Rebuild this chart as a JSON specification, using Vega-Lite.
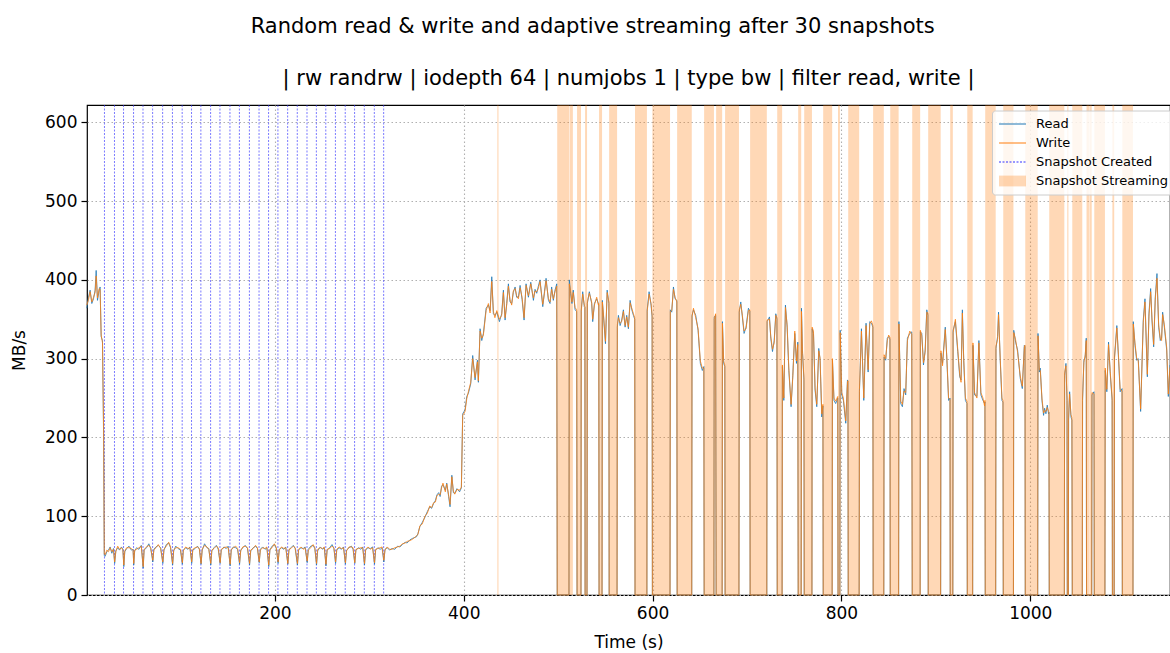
{
  "$schema": "https://vega.github.io/schema/vega-lite/v6.json",
  "background": "white",
  "padding": {"left": 9, "top": 15, "right": 0, "bottom": 0},
  "title": {"text": "Random read & write and adaptive streaming after 30 snapshots", "fontSize": 21, "font": "DejaVu Sans", "fontWeight": "normal", "anchor": "middle", "frame": "bounds", "offset": 30, "color": "black"},
  "datasets": {
    "series": [
      {"t":0.8,"Read":364,"Write":368},{"t":2.6,"Read":378,"Write":375},{"t":4.3,"Read":387,"Write":385},{"t":6.1,"Read":370,"Write":372},{"t":7.9,"Read":376,"Write":378},{"t":9.6,"Read":387,"Write":384},{"t":10.7,"Read":412,"Write":405},{"t":12.1,"Read":374,"Write":377},{"t":13.9,"Read":387,"Write":389},{"t":14.9,"Read":391,"Write":388},{"t":16.0,"Read":328,"Write":330},{"t":17.4,"Read":323,"Write":320},{"t":18.6,"Read":200,"Write":210},{"t":19.3,"Read":50,"Write":52},
      {"t":20.2,"Read":49,"Write":51},{"t":22.0,"Read":55,"Write":57},{"t":23.8,"Read":57,"Write":55},{"t":25.5,"Read":61,"Write":60},{"t":27.3,"Read":53,"Write":55},{"t":29.0,"Read":59,"Write":58},{"t":30.3,"Read":40,"Write":42},{"t":31.5,"Read":56,"Write":55},{"t":33.5,"Read":60,"Write":62},{"t":35.5,"Read":57,"Write":58},{"t":37.5,"Read":61,"Write":60},{"t":39.0,"Read":58,"Write":57},{"t":40.0,"Read":36,"Write":38},{"t":41.0,"Read":55,"Write":56},{"t":43.0,"Read":59,"Write":60},{"t":45.5,"Read":62,"Write":60},{"t":48.0,"Read":57,"Write":59},{"t":49.8,"Read":58,"Write":57},{"t":50.5,"Read":38,"Write":40},{"t":51.5,"Read":56,"Write":57},{"t":53.5,"Read":60,"Write":58},{"t":56.0,"Read":58,"Write":60},{"t":58.5,"Read":63,"Write":62},{"t":60.5,"Read":34,"Write":36},{"t":61.5,"Read":57,"Write":58},{"t":64.0,"Read":60,"Write":61},{"t":66.5,"Read":65,"Write":63},{"t":68.5,"Read":59,"Write":60},{"t":70.7,"Read":42,"Write":44},{"t":71.8,"Read":58,"Write":57},{"t":74.0,"Read":61,"Write":60},{"t":76.5,"Read":63,"Write":64},{"t":79.0,"Read":60,"Write":59},{"t":81.3,"Read":40,"Write":42},{"t":82.5,"Read":57,"Write":58},{"t":85.0,"Read":64,"Write":62},{"t":87.5,"Read":66,"Write":67},{"t":89.5,"Read":60,"Write":61},{"t":91.7,"Read":38,"Write":40},{"t":92.8,"Read":56,"Write":57},{"t":95.0,"Read":62,"Write":60},{"t":97.5,"Read":59,"Write":60},{"t":100.0,"Read":57,"Write":58},{"t":102.0,"Read":39,"Write":41},{"t":103.0,"Read":57,"Write":56},{"t":105.5,"Read":60,"Write":61},{"t":108.0,"Read":58,"Write":59},{"t":110.0,"Read":61,"Write":60},{"t":111.9,"Read":40,"Write":42},{"t":113.0,"Read":57,"Write":58},{"t":115.5,"Read":59,"Write":60},{"t":118.0,"Read":62,"Write":61},{"t":120.0,"Read":58,"Write":59},{"t":121.8,"Read":39,"Write":40},{"t":123.0,"Read":57,"Write":58},{"t":125.5,"Read":65,"Write":63},{"t":128.0,"Read":60,"Write":61},{"t":130.0,"Read":59,"Write":58},{"t":132.1,"Read":38,"Write":40},{"t":133.2,"Read":56,"Write":57},{"t":135.5,"Read":60,"Write":59},{"t":138.0,"Read":63,"Write":62},{"t":140.0,"Read":58,"Write":60},{"t":142.0,"Read":40,"Write":41},{"t":143.2,"Read":57,"Write":58},{"t":146.0,"Read":61,"Write":60},{"t":148.5,"Read":59,"Write":61},{"t":150.5,"Read":62,"Write":60},{"t":152.6,"Read":37,"Write":39},{"t":153.8,"Read":57,"Write":58},{"t":156.0,"Read":61,"Write":60},{"t":158.5,"Read":60,"Write":62},{"t":160.5,"Read":58,"Write":59},{"t":162.6,"Read":39,"Write":41},{"t":163.8,"Read":57,"Write":56},{"t":166.0,"Read":60,"Write":61},{"t":168.5,"Read":63,"Write":62},{"t":171.0,"Read":59,"Write":60},{"t":173.2,"Read":38,"Write":40},{"t":174.4,"Read":56,"Write":57},{"t":177.0,"Read":60,"Write":59},{"t":179.5,"Read":62,"Write":63},{"t":181.5,"Read":59,"Write":60},{"t":183.4,"Read":41,"Write":42},{"t":184.6,"Read":58,"Write":57},{"t":187.0,"Read":61,"Write":60},{"t":189.5,"Read":58,"Write":59},{"t":191.5,"Read":60,"Write":61},{"t":193.5,"Read":36,"Write":38},{"t":194.7,"Read":57,"Write":58},{"t":197.0,"Read":62,"Write":60},{"t":199.5,"Read":64,"Write":65},{"t":201.5,"Read":59,"Write":60},{"t":203.4,"Read":40,"Write":42},{"t":204.6,"Read":58,"Write":57},{"t":207.0,"Read":60,"Write":61},{"t":209.5,"Read":58,"Write":59},{"t":211.5,"Read":61,"Write":60},{"t":213.7,"Read":39,"Write":40},{"t":214.9,"Read":57,"Write":58},{"t":217.0,"Read":60,"Write":59},{"t":219.5,"Read":63,"Write":62},{"t":221.5,"Read":59,"Write":60},{"t":223.9,"Read":38,"Write":40},{"t":225.1,"Read":57,"Write":58},{"t":227.5,"Read":60,"Write":61},{"t":230.0,"Read":59,"Write":58},{"t":232.0,"Read":61,"Write":60},{"t":234.2,"Read":41,"Write":43},{"t":235.4,"Read":58,"Write":57},{"t":238.0,"Read":62,"Write":60},{"t":240.5,"Read":63,"Write":64},{"t":242.3,"Read":59,"Write":60},{"t":244.1,"Read":38,"Write":40},{"t":245.3,"Read":56,"Write":58},{"t":248.0,"Read":61,"Write":60},{"t":250.5,"Read":58,"Write":59},{"t":252.3,"Read":60,"Write":61},{"t":254.1,"Read":37,"Write":39},{"t":255.3,"Read":57,"Write":58},{"t":258.0,"Read":60,"Write":59},{"t":260.5,"Read":64,"Write":62},{"t":262.5,"Read":59,"Write":60},{"t":264.3,"Read":40,"Write":42},{"t":265.5,"Read":57,"Write":58},{"t":268.0,"Read":60,"Write":61},{"t":270.5,"Read":58,"Write":59},{"t":272.7,"Read":61,"Write":60},{"t":274.7,"Read":39,"Write":41},{"t":275.9,"Read":57,"Write":56},{"t":278.5,"Read":60,"Write":61},{"t":281.0,"Read":62,"Write":61},{"t":282.8,"Read":58,"Write":60},{"t":284.6,"Read":40,"Write":41},{"t":285.8,"Read":57,"Write":58},{"t":288.5,"Read":60,"Write":59},{"t":291.0,"Read":58,"Write":60},{"t":293.0,"Read":61,"Write":60},{"t":294.9,"Read":38,"Write":40},{"t":296.1,"Read":57,"Write":58},{"t":298.5,"Read":60,"Write":61},{"t":301.0,"Read":59,"Write":58},{"t":303.5,"Read":61,"Write":60},{"t":305.5,"Read":39,"Write":41},{"t":306.7,"Read":57,"Write":58},{"t":309.0,"Read":60,"Write":59},{"t":311.5,"Read":58,"Write":60},{"t":313.5,"Read":60,"Write":61},{"t":315.4,"Read":42,"Write":44},{"t":316.6,"Read":58,"Write":57},{"t":319.0,"Read":60,"Write":61},
      {"t":321.5,"Read":57,"Write":58},{"t":324.0,"Read":59,"Write":58},{"t":327.0,"Read":58,"Write":60},{"t":330.0,"Read":62,"Write":61},{"t":332.4,"Read":61,"Write":62},{"t":335.0,"Read":64,"Write":65},{"t":338.0,"Read":67,"Write":66},{"t":340.0,"Read":66,"Write":68},{"t":343.0,"Read":70,"Write":69},{"t":346.0,"Read":72,"Write":71},{"t":350.0,"Read":74,"Write":75},{"t":351.5,"Read":78,"Write":77},{"t":353.6,"Read":87,"Write":88},{"t":356.0,"Read":92,"Write":90},{"t":359.0,"Read":99,"Write":100},{"t":361.5,"Read":106,"Write":104},{"t":364.0,"Read":112,"Write":113},{"t":366.0,"Read":110,"Write":111},{"t":368.0,"Read":116,"Write":117},{"t":370.0,"Read":120,"Write":118},{"t":371.6,"Read":127,"Write":126},{"t":373.5,"Read":130,"Write":128},{"t":375.0,"Read":125,"Write":127},{"t":376.5,"Read":138,"Write":136},{"t":378.0,"Read":140,"Write":142},{"t":380.5,"Read":133,"Write":131},{"t":382.0,"Read":142,"Write":141},{"t":384.0,"Read":125,"Write":127},{"t":385.5,"Read":112,"Write":115},{"t":387.4,"Read":152,"Write":150},{"t":389.0,"Read":130,"Write":132},{"t":390.5,"Read":129,"Write":128},{"t":392.8,"Read":135,"Write":134},{"t":395.6,"Read":131,"Write":133},{"t":397.5,"Read":136,"Write":137},{"t":398.9,"Read":230,"Write":228},{"t":401.4,"Read":235,"Write":233},{"t":403.2,"Read":252,"Write":249},{"t":404.9,"Read":256,"Write":258},{"t":407.4,"Read":268,"Write":270},{"t":409.5,"Read":304,"Write":300},{"t":412.0,"Read":273,"Write":276},{"t":414.5,"Read":298,"Write":296},{"t":415.5,"Read":270,"Write":272},{"t":417.3,"Read":338,"Write":335},{"t":419.1,"Read":323,"Write":326},{"t":420.8,"Read":332,"Write":330},{"t":423.7,"Read":364,"Write":361},{"t":426.1,"Read":368,"Write":370},{"t":427.9,"Read":361,"Write":358},{"t":429.7,"Read":404,"Write":398},{"t":431.4,"Read":357,"Write":360},{"t":433.0,"Read":355,"Write":352},{"t":435.0,"Read":359,"Write":361},{"t":437.8,"Read":347,"Write":350},{"t":440.2,"Read":357,"Write":355},{"t":442.0,"Read":387,"Write":384},{"t":443.8,"Read":349,"Write":352},{"t":445.5,"Read":370,"Write":368},{"t":447.3,"Read":395,"Write":392},{"t":449.0,"Read":372,"Write":375},{"t":450.8,"Read":370,"Write":368},{"t":452.5,"Read":384,"Write":386},{"t":454.4,"Read":391,"Write":389},{"t":456.0,"Read":378,"Write":380},{"t":457.9,"Read":378,"Write":376},{"t":459.7,"Read":393,"Write":390},{"t":461.8,"Read":375,"Write":378},{"t":463.9,"Read":349,"Write":352},{"t":466.0,"Read":395,"Write":393},{"t":468.5,"Read":378,"Write":380},{"t":471.0,"Read":397,"Write":395},{"t":473.8,"Read":374,"Write":377},{"t":475.5,"Read":388,"Write":386},{"t":477.3,"Read":383,"Write":385},{"t":479.0,"Read":392,"Write":389},{"t":480.8,"Read":400,"Write":398},{"t":483.7,"Read":366,"Write":369},{"t":485.5,"Read":385,"Write":383},{"t":487.2,"Read":402,"Write":399},{"t":489.7,"Read":374,"Write":376},{"t":491.4,"Read":370,"Write":372},{"t":493.1,"Read":391,"Write":388},{"t":494.9,"Read":374,"Write":376},{"t":496.7,"Read":387,"Write":385},{"t":498.5,"Read":395,"Write":392},
      {"t":499.0,"Read":0,"Write":0},{"t":511.5,"Read":0,"Write":0},{"t":511.8,"Read":400,"Write":395},{"t":513.2,"Read":383,"Write":386},{"t":514.6,"Read":370,"Write":372},{"t":516.0,"Read":387,"Write":384},{"t":517.9,"Read":362,"Write":365},{"t":519.6,"Read":360,"Write":362},{"t":520.0,"Read":0,"Write":0},{"t":524.2,"Read":0,"Write":0},{"t":524.5,"Read":362,"Write":360},{"t":526.0,"Read":385,"Write":382},{"t":527.7,"Read":366,"Write":368},{"t":528.3,"Read":365,"Write":366},{"t":528.5,"Read":0,"Write":0},{"t":530.6,"Read":0,"Write":0},{"t":530.9,"Read":370,"Write":372},{"t":533.0,"Read":385,"Write":383},{"t":535.5,"Read":370,"Write":372},{"t":536.6,"Read":347,"Write":350},{"t":538.4,"Read":370,"Write":368},{"t":540.8,"Read":376,"Write":378},{"t":542.6,"Read":370,"Write":368},{"t":543.0,"Read":368,"Write":370},{"t":543.3,"Read":0,"Write":0},{"t":546.5,"Read":0,"Write":0},{"t":546.8,"Read":374,"Write":372},{"t":548.3,"Read":349,"Write":352},{"t":550.1,"Read":319,"Write":322},{"t":551.9,"Read":387,"Write":384},{"t":553.7,"Read":370,"Write":372},{"t":554.0,"Read":0,"Write":0},{"t":562.4,"Read":0,"Write":0},{"t":562.7,"Read":340,"Write":343},{"t":563.8,"Read":355,"Write":352},{"t":565.6,"Read":342,"Write":345},{"t":567.3,"Read":349,"Write":347},{"t":569.1,"Read":362,"Write":360},{"t":570.9,"Read":340,"Write":342},{"t":572.6,"Read":355,"Write":353},{"t":574.4,"Read":338,"Write":340},{"t":576.2,"Read":374,"Write":371},{"t":578.0,"Read":362,"Write":364},{"t":579.7,"Read":355,"Write":357},{"t":581.1,"Read":350,"Write":352},{"t":581.4,"Read":0,"Write":0},{"t":594.0,"Read":0,"Write":0},{"t":594.3,"Read":362,"Write":360},{"t":596.3,"Read":385,"Write":382},{"t":598.4,"Read":368,"Write":370},{"t":599.5,"Read":353,"Write":355},{"t":599.8,"Read":0,"Write":0},{"t":618.5,"Read":0,"Write":0},{"t":618.8,"Read":362,"Write":360},{"t":620.3,"Read":359,"Write":361},{"t":622.1,"Read":391,"Write":388},{"t":623.8,"Read":376,"Write":378},{"t":625.7,"Read":374,"Write":372},{"t":626.0,"Read":0,"Write":0},{"t":641.5,"Read":0,"Write":0},{"t":641.8,"Read":355,"Write":353},{"t":643.3,"Read":362,"Write":364},{"t":645.7,"Read":355,"Write":352},{"t":648.2,"Read":336,"Write":338},{"t":650.6,"Read":294,"Write":297},{"t":652.7,"Read":285,"Write":288},{"t":654.3,"Read":290,"Write":288},{"t":654.6,"Read":0,"Write":0},{"t":665.0,"Read":0,"Write":0},{"t":665.3,"Read":353,"Write":350},{"t":666.8,"Read":355,"Write":357},{"t":667.3,"Read":0,"Write":0},{"t":673.7,"Read":0,"Write":0},{"t":674.0,"Read":347,"Write":345},{"t":675.3,"Read":294,"Write":297},{"t":676.5,"Read":290,"Write":292},{"t":676.8,"Read":0,"Write":0},{"t":691.5,"Read":0,"Write":0},{"t":691.8,"Read":359,"Write":362},{"t":693.4,"Read":372,"Write":369},{"t":695.1,"Read":353,"Write":355},{"t":696.9,"Read":332,"Write":335},{"t":699.0,"Read":340,"Write":338},{"t":701.5,"Read":364,"Write":361},{"t":703.0,"Read":360,"Write":362},{"t":703.3,"Read":0,"Write":0},{"t":721.0,"Read":0,"Write":0},{"t":721.3,"Read":347,"Write":349},{"t":723.8,"Read":353,"Write":350},{"t":725.2,"Read":326,"Write":328},{"t":727.0,"Read":309,"Write":312},{"t":728.8,"Read":323,"Write":320},{"t":730.5,"Read":357,"Write":355},{"t":731.7,"Read":350,"Write":352},{"t":732.0,"Read":0,"Write":0},{"t":737.2,"Read":0,"Write":0},{"t":737.5,"Read":290,"Write":292},{"t":739.0,"Read":247,"Write":250},{"t":740.7,"Read":368,"Write":365},{"t":742.5,"Read":340,"Write":343},{"t":744.3,"Read":285,"Write":288},{"t":746.7,"Read":239,"Write":242},{"t":748.5,"Read":279,"Write":276},{"t":750.6,"Read":332,"Write":335},{"t":752.4,"Read":294,"Write":297},{"t":753.8,"Read":321,"Write":318},{"t":754.2,"Read":0,"Write":0},{"t":757.4,"Read":0,"Write":0},{"t":757.7,"Read":364,"Write":360},{"t":758.8,"Read":307,"Write":310},{"t":760.3,"Read":273,"Write":276},{"t":760.6,"Read":0,"Write":0},{"t":768.8,"Read":0,"Write":0},{"t":769.0,"Read":338,"Write":340},{"t":770.4,"Read":332,"Write":335},{"t":772.1,"Read":260,"Write":263},{"t":773.9,"Read":239,"Write":242},{"t":776.0,"Read":313,"Write":310},{"t":777.4,"Read":298,"Write":301},{"t":779.2,"Read":226,"Write":230},{"t":780.4,"Read":240,"Write":242},{"t":780.7,"Read":0,"Write":0},{"t":790.2,"Read":0,"Write":0},{"t":790.5,"Read":298,"Write":300},{"t":792.1,"Read":247,"Write":250},{"t":793.9,"Read":243,"Write":246},{"t":796.1,"Read":250,"Write":252},{"t":796.4,"Read":0,"Write":0},{"t":798.4,"Read":0,"Write":0},{"t":798.7,"Read":336,"Write":333},{"t":800.4,"Read":254,"Write":257},{"t":802.1,"Read":247,"Write":250},{"t":804.6,"Read":218,"Write":221},{"t":806.4,"Read":273,"Write":270},{"t":806.9,"Read":270,"Write":272},{"t":807.2,"Read":0,"Write":0},{"t":818.8,"Read":0,"Write":0},{"t":819.1,"Read":258,"Write":261},{"t":821.2,"Read":338,"Write":335},{"t":823.7,"Read":247,"Write":250},{"t":826.1,"Read":345,"Write":342},{"t":828.3,"Read":283,"Write":286},{"t":830.0,"Read":347,"Write":344},{"t":831.8,"Read":345,"Write":348},{"t":833.3,"Read":340,"Write":342},{"t":833.6,"Read":0,"Write":0},{"t":844.9,"Read":0,"Write":0},{"t":845.2,"Read":302,"Write":305},{"t":846.9,"Read":298,"Write":300},{"t":848.6,"Read":326,"Write":323},{"t":850.0,"Read":328,"Write":330},{"t":851.4,"Read":325,"Write":327},{"t":851.7,"Read":0,"Write":0},{"t":860.6,"Read":0,"Write":0},{"t":860.9,"Read":347,"Write":344},{"t":862.8,"Read":243,"Write":246},{"t":864.6,"Read":239,"Write":242},{"t":866.3,"Read":262,"Write":259},{"t":868.1,"Read":254,"Write":257},{"t":869.9,"Read":326,"Write":323},{"t":872.4,"Read":332,"Write":335},{"t":874.5,"Read":334,"Write":331},{"t":875.0,"Read":0,"Write":0},{"t":883.4,"Read":0,"Write":0},{"t":883.6,"Read":334,"Write":336},{"t":885.1,"Read":332,"Write":329},{"t":886.9,"Read":292,"Write":295},{"t":888.7,"Read":311,"Write":308},{"t":890.4,"Read":362,"Write":359},{"t":891.6,"Read":355,"Write":358},{"t":891.9,"Read":0,"Write":0},{"t":905.1,"Read":0,"Write":0},{"t":905.4,"Read":307,"Write":310},{"t":907.1,"Read":294,"Write":291},{"t":910.0,"Read":340,"Write":337},{"t":911.7,"Read":298,"Write":301},{"t":913.5,"Read":247,"Write":250},{"t":915.0,"Read":250,"Write":248},{"t":915.2,"Read":0,"Write":0},{"t":918.0,"Read":0,"Write":0},{"t":918.3,"Read":336,"Write":333},{"t":920.7,"Read":347,"Write":350},{"t":923.2,"Read":309,"Write":312},{"t":925.3,"Read":277,"Write":280},{"t":926.7,"Read":273,"Write":270},{"t":928.1,"Read":362,"Write":358},{"t":929.5,"Read":298,"Write":301},{"t":931.3,"Read":247,"Write":250},{"t":933.0,"Read":243,"Write":246},{"t":933.3,"Read":0,"Write":0},{"t":939.0,"Read":0,"Write":0},{"t":939.3,"Read":317,"Write":320},{"t":941.0,"Read":254,"Write":257},{"t":943.5,"Read":252,"Write":250},{"t":945.6,"Read":323,"Write":320},{"t":947.7,"Read":254,"Write":257},{"t":949.9,"Read":247,"Write":250},{"t":951.6,"Read":243,"Write":240},{"t":952.0,"Read":245,"Write":247},{"t":952.3,"Read":0,"Write":0},{"t":963.4,"Read":0,"Write":0},{"t":963.7,"Read":313,"Write":316},{"t":965.4,"Read":328,"Write":325},{"t":966.4,"Read":359,"Write":356},{"t":968.2,"Read":298,"Write":301},{"t":970.0,"Read":247,"Write":250},{"t":971.1,"Read":245,"Write":247},{"t":971.4,"Read":0,"Write":0},{"t":982.2,"Read":0,"Write":0},{"t":982.5,"Read":336,"Write":333},{"t":984.5,"Read":321,"Write":324},{"t":986.6,"Read":311,"Write":308},{"t":989.4,"Read":275,"Write":278},{"t":991.6,"Read":262,"Write":265},{"t":993.7,"Read":317,"Write":314},{"t":994.4,"Read":315,"Write":317},{"t":994.7,"Read":0,"Write":0},{"t":1007.9,"Read":0,"Write":0},{"t":1008.2,"Read":332,"Write":329},{"t":1009.6,"Read":283,"Write":286},{"t":1010.6,"Read":288,"Write":285},{"t":1012.4,"Read":247,"Write":250},{"t":1014.1,"Read":228,"Write":231},{"t":1015.2,"Read":237,"Write":234},{"t":1016.6,"Read":230,"Write":233},{"t":1018.0,"Read":241,"Write":238},{"t":1019.4,"Read":230,"Write":233},{"t":1019.8,"Read":232,"Write":230},{"t":1020.1,"Read":0,"Write":0},{"t":1036.1,"Read":0,"Write":0},{"t":1036.4,"Read":279,"Write":282},{"t":1037.8,"Read":294,"Write":291},{"t":1038.9,"Read":247,"Write":250},{"t":1039.2,"Read":0,"Write":0},{"t":1040.4,"Read":0,"Write":0},{"t":1040.6,"Read":222,"Write":225},{"t":1041.7,"Read":258,"Write":255},{"t":1043.1,"Read":226,"Write":229},{"t":1044.1,"Read":222,"Write":225},{"t":1044.5,"Read":0,"Write":0},{"t":1055.1,"Read":0,"Write":0},{"t":1055.4,"Read":247,"Write":250},{"t":1056.8,"Read":298,"Write":295},{"t":1058.2,"Read":302,"Write":305},{"t":1059.3,"Read":326,"Write":323},{"t":1059.6,"Read":0,"Write":0},{"t":1065.1,"Read":0,"Write":0},{"t":1065.4,"Read":254,"Write":257},{"t":1067.5,"Read":258,"Write":255},{"t":1067.8,"Read":0,"Write":0},{"t":1079.1,"Read":0,"Write":0},{"t":1079.4,"Read":285,"Write":288},{"t":1081.1,"Read":258,"Write":261},{"t":1082.9,"Read":321,"Write":318},{"t":1084.7,"Read":281,"Write":284},{"t":1086.7,"Read":247,"Write":250},{"t":1087.0,"Read":0,"Write":0},{"t":1088.9,"Read":0,"Write":0},{"t":1089.2,"Read":302,"Write":299},{"t":1091.7,"Read":342,"Write":339},{"t":1093.4,"Read":302,"Write":305},{"t":1095.2,"Read":258,"Write":261},{"t":1097.2,"Read":262,"Write":259},{"t":1097.5,"Read":0,"Write":0},{"t":1108.8,"Read":0,"Write":0},{"t":1109.1,"Read":347,"Write":344},{"t":1110.9,"Read":317,"Write":320},{"t":1112.7,"Read":298,"Write":301},{"t":1114.4,"Read":300,"Write":297},{"t":1116.9,"Read":233,"Write":236},{"t":1119.7,"Read":349,"Write":346},{"t":1121.5,"Read":376,"Write":372},{"t":1124.0,"Read":277,"Write":280},{"t":1125.7,"Read":357,"Write":354},{"t":1127.5,"Read":389,"Write":385},{"t":1128.9,"Read":349,"Write":352},{"t":1130.7,"Read":315,"Write":318},{"t":1132.4,"Read":378,"Write":375},{"t":1134.2,"Read":408,"Write":402},{"t":1136.0,"Read":340,"Write":343},{"t":1137.7,"Read":323,"Write":326},{"t":1139.1,"Read":326,"Write":323},{"t":1140.2,"Read":359,"Write":356},{"t":1142.0,"Read":340,"Write":343},{"t":1144.5,"Read":311,"Write":314},{"t":1146.2,"Read":252,"Write":255},{"t":1148.0,"Read":292,"Write":289}
    ],
    "bands": [
      {"s":435.6,"e":436.8},{"s":499.0,"e":511.5},{"s":512.0,"e":515.6},{"s":520.0,"e":524.2},{"s":528.5,"e":530.6},{"s":543.3,"e":546.5},{"s":554.0,"e":562.4},{"s":581.4,"e":594.0},{"s":599.8,"e":618.5},{"s":626.0,"e":641.5},{"s":654.6,"e":665.0},{"s":667.3,"e":673.7},{"s":676.8,"e":691.5},{"s":703.3,"e":721.0},{"s":732.0,"e":737.2},{"s":754.2,"e":757.4},{"s":760.6,"e":768.8},{"s":780.7,"e":790.2},{"s":796.4,"e":798.4},{"s":807.2,"e":818.8},{"s":833.6,"e":844.9},{"s":851.7,"e":860.6},{"s":875.0,"e":883.4},{"s":891.9,"e":905.1},{"s":915.2,"e":918.0},{"s":933.3,"e":939.0},{"s":952.3,"e":963.4},{"s":971.4,"e":982.2},{"s":994.7,"e":1007.9},{"s":1020.1,"e":1036.1},{"s":1039.2,"e":1040.4},{"s":1044.5,"e":1055.1},{"s":1059.6,"e":1062.2},{"s":1062.6,"e":1065.1},{"s":1067.8,"e":1079.1},{"s":1087.0,"e":1088.9},{"s":1097.5,"e":1108.8}
    ],
    "snaps": [
      {"t":19.5},{"t":30.1},{"t":39.7},{"t":50.3},{"t":60.3},{"t":70.5},{"t":81.1},{"t":91.5},{"t":101.8},{"t":111.7},{"t":121.6},{"t":131.9},{"t":141.8},{"t":152.4},{"t":162.4},{"t":173.0},{"t":183.2},{"t":193.3},{"t":203.2},{"t":213.5},{"t":223.7},{"t":234.0},{"t":243.9},{"t":253.9},{"t":264.1},{"t":274.5},{"t":284.4},{"t":294.7},{"t":305.3},{"t":315.2}
    ]
  },
  "vconcat": [
    {
      "width": 1083,
      "height": 490,
      "title": {"text": "| rw randrw | iodepth 64 | numjobs 1 | type bw | filter read, write |", "fontSize": 21, "font": "DejaVu Sans", "fontWeight": "normal", "anchor": "middle", "offset": 16, "color": "black"},
      "layer": [
        {
          "data": {"name": "bands"},
          "mark": {"type": "rect", "opacity": 0.3},
          "encoding": {
            "x": {"field": "s", "type": "quantitative"},
            "x2": {"field": "e"},
            "color": {"datum": "Snapshot Streaming", "type": "nominal"}
          }
        },
        {
          "data": {"name": "snaps"},
          "mark": {"type": "rule", "strokeDash": [2, 1.5], "strokeWidth": 1, "opacity": 0.65},
          "encoding": {
            "x": {"field": "t", "type": "quantitative"},
            "color": {"datum": "Snapshot Created", "type": "nominal"}
          }
        },
        {
          "data": {"name": "series"},
          "transform": [{"fold": ["Read", "Write"], "as": ["series", "value"]}],
          "mark": {"type": "line", "strokeWidth": 0.8},
          "encoding": {
            "x": {"field": "t", "type": "quantitative", "title": "Time (s)",
                  "scale": {"domain": [1, 1148], "nice": false, "zero": false},
                  "axis": {"values": [200, 400, 600, 800, 1000], "format": "d"}},
            "y": {"field": "value", "type": "quantitative", "title": "MB/s",
                  "scale": {"domain": [0, 622], "nice": false},
                  "axis": {"values": [0, 100, 200, 300, 400, 500, 600]}},
            "color": {
              "field": "series", "type": "nominal",
              "scale": {"domain": ["Read", "Write", "Snapshot Created", "Snapshot Streaming"], "range": ["#1f77b4", "#ff7f0e", "#3333ff", "#ff7f0e"]},
              "legend": {
                "title": null, "orient": "none", "legendX": 905, "legendY": 5.5,
                "labelFontSize": 13, "labelFont": "DejaVu Sans", "labelColor": "black",
                "symbolSize": 182, "symbolStrokeWidth": 1.2, "symbolOffset": 7,
                "fillColor": "rgba(255,255,255,0.8)", "strokeColor": "#cccccc", "cornerRadius": 3,
                "padding": 6, "rowPadding": 4, "labelOffset": 16,
                "encode": {"symbols": {"update": {
                  "shape": {"signal": "datum.value === 'Snapshot Streaming' ? 'M-2,-0.8H2V0.8H-2Z' : 'M-2,0H2'"},
                  "strokeOpacity": {"signal": "datum.value === 'Snapshot Streaming' ? 0 : 1"},
                  "fill": {"signal": "datum.value === 'Snapshot Streaming' ? '#ffd9b7' : 'transparent'"},
                  "fillOpacity": {"signal": "datum.value === 'Snapshot Streaming' ? 0.3 : 0"},
                  "strokeDash": {"signal": "datum.value === 'Snapshot Created' ? [2, 1.5] : [1, 0]"},
                  "opacity": {"value": 1}
                }}}
              }
            }
          }
        }
      ]
    }
  ],
  "config": {
    "font": "DejaVu Sans",
    "view": {"stroke": "black", "strokeWidth": 1.2},
    "axis": {
      "domain": false, "ticks": true, "tickColor": "black", "tickSize": 6, "tickWidth": 1.2,
      "labelFontSize": 17, "labelFont": "DejaVu Sans", "labelColor": "black", "labelPadding": 4,
      "titleFontSize": 17, "titleFont": "DejaVu Sans", "titleFontWeight": "normal", "titleColor": "black",
      "grid": true, "gridColor": "#b0b0b0", "gridDash": [1.5, 2.5], "gridWidth": 1.1
    },
    "axisX": {"titlePadding": 13},
    "axisY": {"titlePadding": 16}
  }
}
